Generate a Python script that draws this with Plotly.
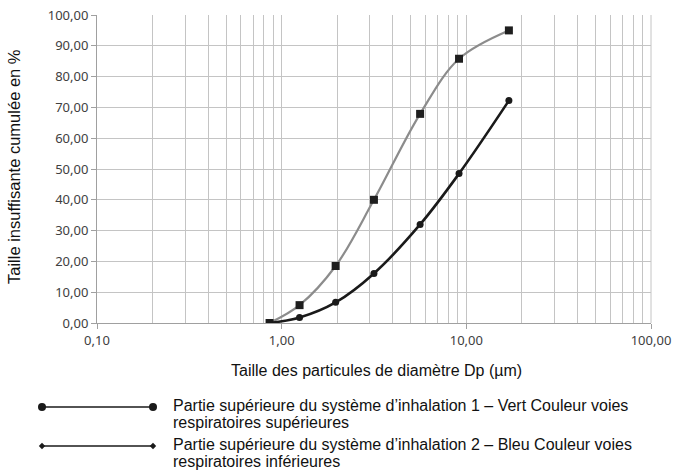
import plotly.graph_objects as go

diam = [0.86, 1.25, 1.96, 3.16, 5.62, 9.13, 17.0]
upper_pct = [0.0, 1.8, 6.7, 16.1, 32.0, 48.5, 72.2]
lower_pct = [0.0, 5.8, 18.5, 40.0, 67.9, 85.8, 95.0]
x_tickvals = [0.1, 1, 10, 100]
x_ticktext = ["0,10", "1,00", "10,00", "100,00"]
y_tickvals = [0, 10, 20, 30, 40, 50, 60, 70, 80, 90, 100]
legend_lines = [
    ["Partie supérieure du système d’inhalation 1 – Vert Couleur voies",
     "respiratoires supérieures"],
    ["Partie supérieure du système d’inhalation 2 – Bleu Couleur voies",
     "respiratoires inférieures"],
]

fig = go.Figure()
fig.add_trace(go.Scatter(x=diam, y=lower_pct, mode="lines+markers",
                         line=dict(color="#8c8c8c", width=2.2, shape="spline"),
                         marker=dict(symbol="square", size=8, color="#1e1e1e"),
                         showlegend=False, hoverinfo="skip"))
fig.add_trace(go.Scatter(x=diam, y=upper_pct, mode="lines+markers",
                         line=dict(color="#1a1a1a", width=2.6, shape="spline"),
                         marker=dict(symbol="circle", size=7, color="#1a1a1a"),
                         showlegend=False, hoverinfo="skip"))

tickfont = dict(family="Noto Sans", size=13, color="#404040")
fig.update_xaxes(type="log", range=[-1, 2], tickvals=x_tickvals, ticktext=x_ticktext,
                 showgrid=True, gridcolor="#c4c4c4", gridwidth=1,
                 minor=dict(dtick="D1", showgrid=True, gridcolor="#c4c4c4", gridwidth=1,
                            ticks=""),
                 showline=True, linecolor="#a0a0a0", linewidth=1,
                 ticks="outside", ticklen=5, tickcolor="#a0a0a0",
                 tickfont=tickfont, zeroline=False, automargin=False)
fig.update_yaxes(range=[0, 100], tickvals=y_tickvals, tickformat=".2f",
                 showgrid=True, gridcolor="#c4c4c4", gridwidth=1,
                 showline=True, linecolor="#a0a0a0", linewidth=1,
                 ticks="outside", ticklen=5, tickcolor="#a0a0a0",
                 tickfont=tickfont, zeroline=False, automargin=False)

shapes = []
annotations = []
W, L, T, H = 554, 97, 15, 308
def px(x):
    return (x - L) / W
def py(y):
    return (T + H - y) / H

shapes.append(dict(type="line", xref="paper", yref="paper", x0=1, x1=1, y0=0, y1=1,
                   line=dict(color="#c4c4c4", width=1)))

legfont = dict(family="Liberation Sans", size=16, color="#111111")
for lines, ly, sym in zip(legend_lines, [407, 446], ["circle", "diamond"]):
    shapes.append(dict(type="line", xref="paper", yref="paper", x0=px(42), x1=px(153),
                       y0=py(ly), y1=py(ly), line=dict(color="#1a1a1a", width=1.5)))
    for ex in (42, 153):
        if sym == "circle":
            r = 4
            shapes.append(dict(type="circle", xref="paper", yref="paper",
                               x0=px(ex - r), x1=px(ex + r), y0=py(ly + r), y1=py(ly - r),
                               fillcolor="#1a1a1a", line=dict(width=0)))
        else:
            r = 3.2
            shapes.append(dict(type="path", xref="paper", yref="paper",
                               path=f"M {px(ex-r)} {py(ly)} L {px(ex)} {py(ly-r)} L {px(ex+r)} {py(ly)} L {px(ex)} {py(ly+r)} Z",
                               fillcolor="#1a1a1a", line=dict(width=0)))
    for k, txt in enumerate(lines):
        annotations.append(dict(text=txt, xref="paper", yref="paper", x=px(171), y=py(ly - 2 + 17 * k),
                                xanchor="left", yanchor="middle", align="left", showarrow=False,
                                font=legfont))

annotations.append(dict(text="Taille des particules de diamètre Dp (µm)", xref="paper", yref="paper",
                        x=px(376), y=py(370), xanchor="center", yanchor="middle", showarrow=False,
                        font=dict(family="Liberation Sans", size=16, color="#111111")))
annotations.append(dict(text="Taille insuffisante cumulée en %", xref="paper", yref="paper",
                        x=px(14), y=py(167), xanchor="center", yanchor="middle", showarrow=False,
                        textangle=-90,
                        font=dict(family="Liberation Sans", size=16.5, color="#111111")))

fig.update_layout(width=673, height=471, margin=dict(l=97, r=22, t=15, b=148),
                  paper_bgcolor="white", plot_bgcolor="white", separators=", ",
                  shapes=shapes, annotations=annotations, showlegend=False)
fig.write_html("out.html", config={"displayModeBar": False},
               post_script="document.body.style.margin='0';document.body.style.padding='0';document.body.style.overflow='hidden';")
